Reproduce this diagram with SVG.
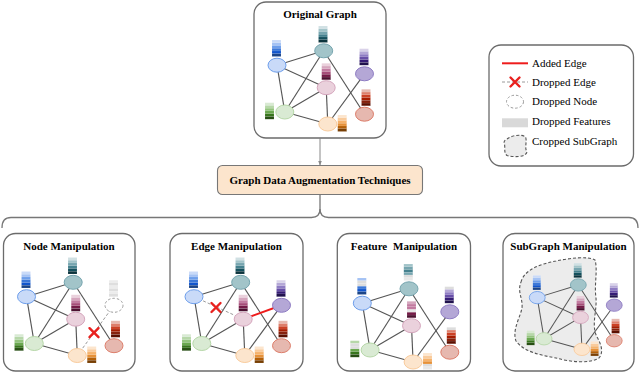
<svg xmlns="http://www.w3.org/2000/svg" xmlns:xlink="http://www.w3.org/1999/xlink" width="640" height="373" viewBox="0 0 640 373">
<style>
.box{fill:#fff;stroke:#6b6b6b;stroke-width:1.3}
.title{font-family:"Liberation Serif","Times New Roman",serif;font-weight:bold;font-size:11px;text-anchor:middle;fill:#000}
.lg{font-family:"Liberation Serif","Times New Roman",serif;font-size:11px;fill:#000}
.e{stroke:#555;stroke-width:1.15;fill:none}
.drop{stroke:#9a9a9a;stroke-width:1;stroke-dasharray:3 2;fill:none}
.x{stroke:#e8211e;stroke-width:2.4;stroke-linecap:round;fill:none}
.add{stroke:#ee1c1c;stroke-width:2;fill:none}
.nb{fill:#c9daf8;stroke:#6d9eeb;stroke-width:1}
.nt{fill:#a2c4c9;stroke:#76a5af;stroke-width:1}
.np{fill:#ead1dc;stroke:#d5a6bd;stroke-width:1}
.nu{fill:#b4a7d6;stroke:#8e7cc3;stroke-width:1}
.ng{fill:#d9ead3;stroke:#b6d7a8;stroke-width:1}
.no{fill:#fce5cd;stroke:#f9cb9c;stroke-width:1}
.nr{fill:#e6b8af;stroke:#dd7e6b;stroke-width:1}
.nd{fill:#fff;stroke:#9a9a9a;stroke-width:1;stroke-dasharray:2.5 2}
.blob{fill:#ececec;stroke:#555;stroke-width:1.1;stroke-dasharray:3 2}
.bar rect{stroke:#fff;stroke-width:0.15;stroke-opacity:0.6}
</style>
<defs>
<marker id="arr" viewBox="0 0 10 10" refX="9" refY="5" markerWidth="5" markerHeight="5" orient="auto"><path d="M0,1 L10,5 L0,9 Z" fill="#888"/></marker>
<g id="bar-blue" class="bar"><rect y="0" width="9" height="2.75" fill="#c9daf8"/><rect y="2.75" width="9" height="2.75" fill="#a4c2f4"/><rect y="5.5" width="9" height="2.75" fill="#6d9eeb"/><rect y="8.25" width="9" height="2.75" fill="#3c78d8"/><rect y="11" width="9" height="2.75" fill="#1155cc"/><rect y="13.75" width="9" height="2.75" fill="#1c4587"/></g>
<g id="bar-teal" class="bar"><rect y="0" width="9" height="2.75" fill="#d0e0e3"/><rect y="2.75" width="9" height="2.75" fill="#a2c4c9"/><rect y="5.5" width="9" height="2.75" fill="#76a5af"/><rect y="8.25" width="9" height="2.75" fill="#45818e"/><rect y="11" width="9" height="2.75" fill="#134f5c"/><rect y="13.75" width="9" height="2.75" fill="#0c343d"/></g>
<g id="bar-pink" class="bar"><rect y="0" width="9" height="2.75" fill="#ead1dc"/><rect y="2.75" width="9" height="2.75" fill="#d5a6bd"/><rect y="5.5" width="9" height="2.75" fill="#c27ba0"/><rect y="8.25" width="9" height="2.75" fill="#a64d79"/><rect y="11" width="9" height="2.75" fill="#741b47"/><rect y="13.75" width="9" height="2.75" fill="#4c1130"/></g>
<g id="bar-purple" class="bar"><rect y="0" width="9" height="2.75" fill="#d9d2e9"/><rect y="2.75" width="9" height="2.75" fill="#b4a7d6"/><rect y="5.5" width="9" height="2.75" fill="#8e7cc3"/><rect y="8.25" width="9" height="2.75" fill="#674ea7"/><rect y="11" width="9" height="2.75" fill="#351c75"/><rect y="13.75" width="9" height="2.75" fill="#20124d"/></g>
<g id="bar-red" class="bar"><rect y="0" width="9" height="2.75" fill="#e6b8af"/><rect y="2.75" width="9" height="2.75" fill="#dd7e6b"/><rect y="5.5" width="9" height="2.75" fill="#cc4125"/><rect y="8.25" width="9" height="2.75" fill="#a61c00"/><rect y="11" width="9" height="2.75" fill="#85200c"/><rect y="13.75" width="9" height="2.75" fill="#5b0f00"/></g>
<g id="bar-green" class="bar"><rect y="0" width="9" height="2.75" fill="#d9ead3"/><rect y="2.75" width="9" height="2.75" fill="#b6d7a8"/><rect y="5.5" width="9" height="2.75" fill="#93c47d"/><rect y="8.25" width="9" height="2.75" fill="#6aa84f"/><rect y="11" width="9" height="2.75" fill="#38761d"/><rect y="13.75" width="9" height="2.75" fill="#274e13"/></g>
<g id="bar-orange" class="bar"><rect y="0" width="9" height="2.75" fill="#fce5cd"/><rect y="2.75" width="9" height="2.75" fill="#f9cb9c"/><rect y="5.5" width="9" height="2.75" fill="#f6b26b"/><rect y="8.25" width="9" height="2.75" fill="#e69138"/><rect y="11" width="9" height="2.75" fill="#b45f06"/><rect y="13.75" width="9" height="2.75" fill="#783f04"/></g>
<g id="bar-gray" class="bar"><rect y="0" width="9" height="2.75" fill="#ececec"/><rect y="2.75" width="9" height="2.75" fill="#dedede"/><rect y="5.5" width="9" height="2.75" fill="#ececec"/><rect y="8.25" width="9" height="2.75" fill="#dedede"/><rect y="11" width="9" height="2.75" fill="#ececec"/><rect y="13.75" width="9" height="2.75" fill="#dedede"/></g>
<g id="fbar-blue" class="bar"><rect y="0" width="9" height="2.75" fill="#a4c2f4"/><rect y="2.75" width="9" height="2.75" fill="#dddddd"/><rect y="5.5" width="9" height="2.75" fill="#dddddd"/><rect y="8.25" width="9" height="2.75" fill="#3c78d8"/><rect y="11" width="9" height="2.75" fill="#1155cc"/><rect y="13.75" width="9" height="2.75" fill="#1c4587"/></g>
<g id="fbar-teal" class="bar"><rect y="0" width="9" height="2.75" fill="#a2c4c9"/><rect y="2.75" width="9" height="2.75" fill="#76a5af"/><rect y="5.5" width="9" height="2.75" fill="#45818e"/><rect y="8.25" width="9" height="2.75" fill="#76a5af"/><rect y="11" width="9" height="2.75" fill="#dddddd"/><rect y="13.75" width="9" height="2.75" fill="#e8e8e8"/></g>
<g id="fbar-pink" class="bar"><rect y="0" width="9" height="2.75" fill="#d5a6bd"/><rect y="2.75" width="9" height="2.75" fill="#c27ba0"/><rect y="5.5" width="9" height="2.75" fill="#c27ba0"/><rect y="8.25" width="9" height="2.75" fill="#e6e6e6"/><rect y="11" width="9" height="2.75" fill="#741b47"/><rect y="13.75" width="9" height="2.75" fill="#4c1130"/></g>
<g id="fbar-purple" class="bar"><rect y="0" width="9" height="2.75" fill="#dddddd"/><rect y="2.75" width="9" height="2.75" fill="#b4a7d6"/><rect y="5.5" width="9" height="2.75" fill="#8e7cc3"/><rect y="8.25" width="9" height="2.75" fill="#674ea7"/><rect y="11" width="9" height="2.75" fill="#351c75"/><rect y="13.75" width="9" height="2.75" fill="#20124d"/></g>
<g id="fbar-red" class="bar"><rect y="0" width="9" height="2.75" fill="#dddddd"/><rect y="2.75" width="9" height="2.75" fill="#dd7e6b"/><rect y="5.5" width="9" height="2.75" fill="#cc4125"/><rect y="8.25" width="9" height="2.75" fill="#a61c00"/><rect y="11" width="9" height="2.75" fill="#85200c"/><rect y="13.75" width="9" height="2.75" fill="#5b0f00"/></g>
<g id="fbar-green" class="bar"><rect y="0" width="9" height="2.75" fill="#b6d7a8"/><rect y="2.75" width="9" height="2.75" fill="#dddddd"/><rect y="5.5" width="9" height="2.75" fill="#dddddd"/><rect y="8.25" width="9" height="2.75" fill="#6aa84f"/><rect y="11" width="9" height="2.75" fill="#38761d"/><rect y="13.75" width="9" height="2.75" fill="#274e13"/></g>
<g id="fbar-orange" class="bar"><rect y="0" width="9" height="2.75" fill="#fce5cd"/><rect y="2.75" width="9" height="2.75" fill="#f9cb9c"/><rect y="5.5" width="9" height="2.75" fill="#f6b26b"/><rect y="8.25" width="9" height="2.75" fill="#e69138"/><rect y="11" width="9" height="2.75" fill="#dddddd"/><rect y="13.75" width="9" height="2.75" fill="#e8e8e8"/></g>
</defs>

<!-- Connectors between the main blocks -->
<g id="connectors" fill="none" stroke="#777" stroke-width="1.3">
<line x1="320" y1="138.5" x2="320" y2="165" marker-end="url(#arr)" stroke="#888" stroke-width="1"/>
<path d="M320,194.5 V209 Q320,217.5 311.5,217.5 H11 Q2,217.5 2,228"/>
<path d="M320,209 Q320,217.5 328.5,217.5 H629 Q638,217.5 638,228"/>
</g>

<!-- Original Graph -->
<g id="original-graph">
<rect class="box" x="254" y="2" width="132" height="136" rx="12"/>
<text class="title" x="320" y="17.5">Original Graph</text>
<g transform="translate(254,2)">
<g class="edges">
<line class="e" x1="23" y1="63.2" x2="69.7" y2="48.8"/><line class="e" x1="23" y1="63.2" x2="72.2" y2="85.7"/><line class="e" x1="23" y1="63.2" x2="30.8" y2="110"/><line class="e" x1="69.7" y1="48.8" x2="30.8" y2="110"/><line class="e" x1="69.7" y1="48.8" x2="110.5" y2="112.2"/><line class="e" x1="72.2" y1="85.7" x2="30.8" y2="110"/><line class="e" x1="72.2" y1="85.7" x2="73.8" y2="122"/><line class="e" x1="30.8" y1="110" x2="73.8" y2="122"/><line class="e" x1="110.5" y1="71.8" x2="73.8" y2="122"/>
</g>
<g id="og-blue"><use href="#bar-blue" x="18" y="38"/><ellipse class="nb" cx="23" cy="63.2" rx="9" ry="7"/></g>
<g id="og-teal"><use href="#bar-teal" x="64.5" y="24"/><ellipse class="nt" cx="69.7" cy="48.8" rx="9" ry="7"/></g>
<g id="og-pink"><use href="#bar-pink" x="67.7" y="61.3"/><ellipse class="np" cx="72.2" cy="85.7" rx="9" ry="7"/></g>
<g id="og-purple"><use href="#bar-purple" x="105.5" y="46.7"/><ellipse class="nu" cx="110.5" cy="71.8" rx="9" ry="7"/></g>
<g id="og-green"><use href="#bar-green" x="11" y="100.7"/><ellipse class="ng" cx="30.8" cy="110" rx="9" ry="7"/></g>
<g id="og-orange"><use href="#bar-orange" x="83.7" y="113"/><ellipse class="no" cx="73.8" cy="122" rx="9" ry="7"/></g>
<g id="og-red"><use href="#bar-red" x="107.5" y="87.3"/><ellipse class="nr" cx="110.5" cy="112.2" rx="9" ry="7"/></g>
</g>
</g>

<!-- Legend -->
<g id="legend">
<rect class="box" x="489" y="45" width="144.5" height="121" rx="12"/>
<line class="add" x1="502" y1="63.3" x2="528" y2="63.3"/>
<text class="lg" x="532" y="66.5">Added Edge</text>
<line class="drop" x1="502" y1="82" x2="528" y2="82"/>
<path class="x" d="M510.5,77.5 L519.5,86.5 M519.5,77.5 L510.5,86.5"/>
<text class="lg" x="532" y="85.5">Dropped Edge</text>
<ellipse class="nd" cx="515" cy="101.7" rx="8.5" ry="6.5"/>
<text class="lg" x="532" y="105">Dropped Node</text>
<rect x="502" y="118.3" width="26" height="9" fill="#d9d9d9"/>
<text class="lg" x="532" y="124.8">Dropped Features</text>
<path class="blob" d="M507,139 C512,135 522,134 525.5,137 C527.5,142 524,147 527,152 C526,157 515,157.5 507,155.5 C503,152 506,147 504,143 C504,141 505,140 507,139 Z"/>
<text class="lg" x="532" y="144.5">Cropped SubGraph</text>
</g>

<!-- Middle node -->
<g id="gda-techniques">
<rect x="217.5" y="165.5" width="205" height="29" rx="5" fill="#fce5cd" stroke="#777" stroke-width="1.1"/>
<text class="title" x="320" y="183.6">Graph Data Augmentation Techniques</text>
</g>

<!-- Node Manipulation -->
<g id="node-manipulation">
<rect class="box" x="3.5" y="233.5" width="131.5" height="137.5" rx="12"/>
<text class="title" x="69" y="250">Node Manipulation</text>
<g transform="translate(3.5,233.5)">
<g class="edges">
<line class="e" x1="23" y1="63.2" x2="69.7" y2="48.8"/><line class="e" x1="23" y1="63.2" x2="72.2" y2="85.7"/><line class="e" x1="23" y1="63.2" x2="30.8" y2="110"/><line class="e" x1="69.7" y1="48.8" x2="30.8" y2="110"/><line class="e" x1="69.7" y1="48.8" x2="110.5" y2="112.2"/><line class="e" x1="72.2" y1="85.7" x2="30.8" y2="110"/><line class="e" x1="72.2" y1="85.7" x2="73.8" y2="122"/><line class="e" x1="30.8" y1="110" x2="73.8" y2="122"/>
<line class="drop" x1="110.5" y1="71.8" x2="73.8" y2="122"/>
<path class="x" d="M86,94.7 L95,103.7 M95,94.7 L86,103.7"/>
</g>
<g id="nm-blue"><use href="#bar-blue" x="18" y="38"/><ellipse class="nb" cx="23" cy="63.2" rx="9" ry="7"/></g>
<g id="nm-teal"><use href="#bar-teal" x="64.5" y="24"/><ellipse class="nt" cx="69.7" cy="48.8" rx="9" ry="7"/></g>
<g id="nm-pink"><use href="#bar-pink" x="67.7" y="61.3"/><ellipse class="np" cx="72.2" cy="85.7" rx="9" ry="7"/></g>
<g id="nm-dropped"><use href="#bar-gray" x="105.5" y="46.7"/><ellipse class="nd" cx="110.5" cy="71.8" rx="9" ry="7"/></g>
<g id="nm-green"><use href="#bar-green" x="11" y="100.7"/><ellipse class="ng" cx="30.8" cy="110" rx="9" ry="7"/></g>
<g id="nm-orange"><use href="#bar-orange" x="83.7" y="113"/><ellipse class="no" cx="73.8" cy="122" rx="9" ry="7"/></g>
<g id="nm-red"><use href="#bar-red" x="107.5" y="87.3"/><ellipse class="nr" cx="110.5" cy="112.2" rx="9" ry="7"/></g>
</g>
</g>

<!-- Edge Manipulation -->
<g id="edge-manipulation">
<rect class="box" x="170" y="233.5" width="133" height="137.5" rx="12"/>
<text class="title" x="236.5" y="250">Edge Manipulation</text>
<g transform="translate(171,233.5)">
<g class="edges">
<line class="e" x1="23" y1="63.2" x2="69.7" y2="48.8"/><line class="e" x1="23" y1="63.2" x2="30.8" y2="110"/><line class="e" x1="69.7" y1="48.8" x2="30.8" y2="110"/><line class="e" x1="69.7" y1="48.8" x2="110.5" y2="112.2"/><line class="e" x1="72.2" y1="85.7" x2="30.8" y2="110"/><line class="e" x1="72.2" y1="85.7" x2="73.8" y2="122"/><line class="e" x1="30.8" y1="110" x2="73.8" y2="122"/><line class="e" x1="110.5" y1="71.8" x2="73.8" y2="122"/>
<line class="drop" x1="23" y1="63.2" x2="72.2" y2="85.7"/>
<path class="x" d="M40.5,69.5 L49.5,78.5 M49.5,69.5 L40.5,78.5"/>
<line class="add" x1="72.2" y1="85.7" x2="110.5" y2="71.8"/>
</g>
<g id="em-blue"><use href="#bar-blue" x="18" y="38"/><ellipse class="nb" cx="23" cy="63.2" rx="9" ry="7"/></g>
<g id="em-teal"><use href="#bar-teal" x="64.5" y="24"/><ellipse class="nt" cx="69.7" cy="48.8" rx="9" ry="7"/></g>
<g id="em-pink"><use href="#bar-pink" x="67.7" y="61.3"/><ellipse class="np" cx="72.2" cy="85.7" rx="9" ry="7"/></g>
<g id="em-purple"><use href="#bar-purple" x="105.5" y="46.7"/><ellipse class="nu" cx="110.5" cy="71.8" rx="9" ry="7"/></g>
<g id="em-green"><use href="#bar-green" x="11" y="100.7"/><ellipse class="ng" cx="30.8" cy="110" rx="9" ry="7"/></g>
<g id="em-orange"><use href="#bar-orange" x="83.7" y="113"/><ellipse class="no" cx="73.8" cy="122" rx="9" ry="7"/></g>
<g id="em-red"><use href="#bar-red" x="107.5" y="87.3"/><ellipse class="nr" cx="110.5" cy="112.2" rx="9" ry="7"/></g>
</g>
</g>

<!-- Feature Manipulation -->
<g id="feature-manipulation">
<rect class="box" x="337.3" y="233.5" width="133.2" height="137.5" rx="12"/>
<text class="title" x="404" y="250" word-spacing="3">Feature Manipulation</text>
<g transform="translate(339.3,240)">
<g class="edges">
<line class="e" x1="23" y1="63.2" x2="69.7" y2="48.8"/><line class="e" x1="23" y1="63.2" x2="72.2" y2="85.7"/><line class="e" x1="23" y1="63.2" x2="30.8" y2="110"/><line class="e" x1="69.7" y1="48.8" x2="30.8" y2="110"/><line class="e" x1="69.7" y1="48.8" x2="110.5" y2="112.2"/><line class="e" x1="72.2" y1="85.7" x2="30.8" y2="110"/><line class="e" x1="72.2" y1="85.7" x2="73.8" y2="122"/><line class="e" x1="30.8" y1="110" x2="73.8" y2="122"/><line class="e" x1="110.5" y1="71.8" x2="73.8" y2="122"/>
</g>
<g id="fm-blue"><use href="#fbar-blue" x="18" y="38"/><ellipse class="nb" cx="23" cy="63.2" rx="9" ry="7"/></g>
<g id="fm-teal"><use href="#fbar-teal" x="64.5" y="24"/><ellipse class="nt" cx="69.7" cy="48.8" rx="9" ry="7"/></g>
<g id="fm-pink"><use href="#fbar-pink" x="67.7" y="61.3"/><ellipse class="np" cx="72.2" cy="85.7" rx="9" ry="7"/></g>
<g id="fm-purple"><use href="#fbar-purple" x="105.5" y="46.7"/><ellipse class="nu" cx="110.5" cy="71.8" rx="9" ry="7"/></g>
<g id="fm-green"><use href="#fbar-green" x="11" y="100.7"/><ellipse class="ng" cx="30.8" cy="110" rx="9" ry="7"/></g>
<g id="fm-orange"><use href="#fbar-orange" x="83.7" y="113"/><ellipse class="no" cx="73.8" cy="122" rx="9" ry="7"/></g>
<g id="fm-red"><use href="#fbar-red" x="107.5" y="87.3"/><ellipse class="nr" cx="110.5" cy="112.2" rx="9" ry="7"/></g>
</g>
</g>

<!-- SubGraph Manipulation -->
<g id="subgraph-manipulation">
<rect class="box" x="503" y="233.5" width="131" height="137.5" rx="12"/>
<text class="title" x="568.5" y="250">SubGraph Manipulation</text>
<path class="blob" d="M521,282 C524,270 540,264 556,261 C570,258 588,256 595,260 C598,270 594,285 596,298 C597,312 591,325 597,337 C601,344 604,352 599,358 C590,364 570,362 556,358 C540,355 524,352 516,341 C512,330 520,318 522,308 C523,298 517,292 521,282 Z"/>
<g transform="translate(517,242) scale(0.88)">
<g class="edges">
<line class="e" x1="23" y1="63.2" x2="69.7" y2="48.8"/><line class="e" x1="23" y1="63.2" x2="72.2" y2="85.7"/><line class="e" x1="23" y1="63.2" x2="30.8" y2="110"/><line class="e" x1="69.7" y1="48.8" x2="30.8" y2="110"/><line class="e" x1="69.7" y1="48.8" x2="110.5" y2="112.2"/><line class="e" x1="72.2" y1="85.7" x2="30.8" y2="110"/><line class="e" x1="72.2" y1="85.7" x2="73.8" y2="122"/><line class="e" x1="30.8" y1="110" x2="73.8" y2="122"/><line class="e" x1="110.5" y1="71.8" x2="73.8" y2="122"/>
</g>
<g id="sm-blue"><use href="#bar-blue" x="18" y="38"/><ellipse class="nb" cx="23" cy="63.2" rx="9" ry="7"/></g>
<g id="sm-teal"><use href="#bar-teal" x="64.5" y="24"/><ellipse class="nt" cx="69.7" cy="48.8" rx="9" ry="7"/></g>
<g id="sm-pink"><use href="#bar-pink" x="67.7" y="61.3"/><ellipse class="np" cx="72.2" cy="85.7" rx="9" ry="7"/></g>
<g id="sm-purple"><use href="#bar-purple" x="105.5" y="46.7"/><ellipse class="nu" cx="110.5" cy="71.8" rx="9" ry="7"/></g>
<g id="sm-green"><use href="#bar-green" x="11" y="100.7"/><ellipse class="ng" cx="30.8" cy="110" rx="9" ry="7"/></g>
<g id="sm-orange"><use href="#bar-orange" x="83.7" y="113"/><ellipse class="no" cx="73.8" cy="122" rx="9" ry="7"/></g>
<g id="sm-red"><use href="#bar-red" x="107.5" y="87.3"/><ellipse class="nr" cx="110.5" cy="112.2" rx="9" ry="7"/></g>
</g>
</g>
</svg>
